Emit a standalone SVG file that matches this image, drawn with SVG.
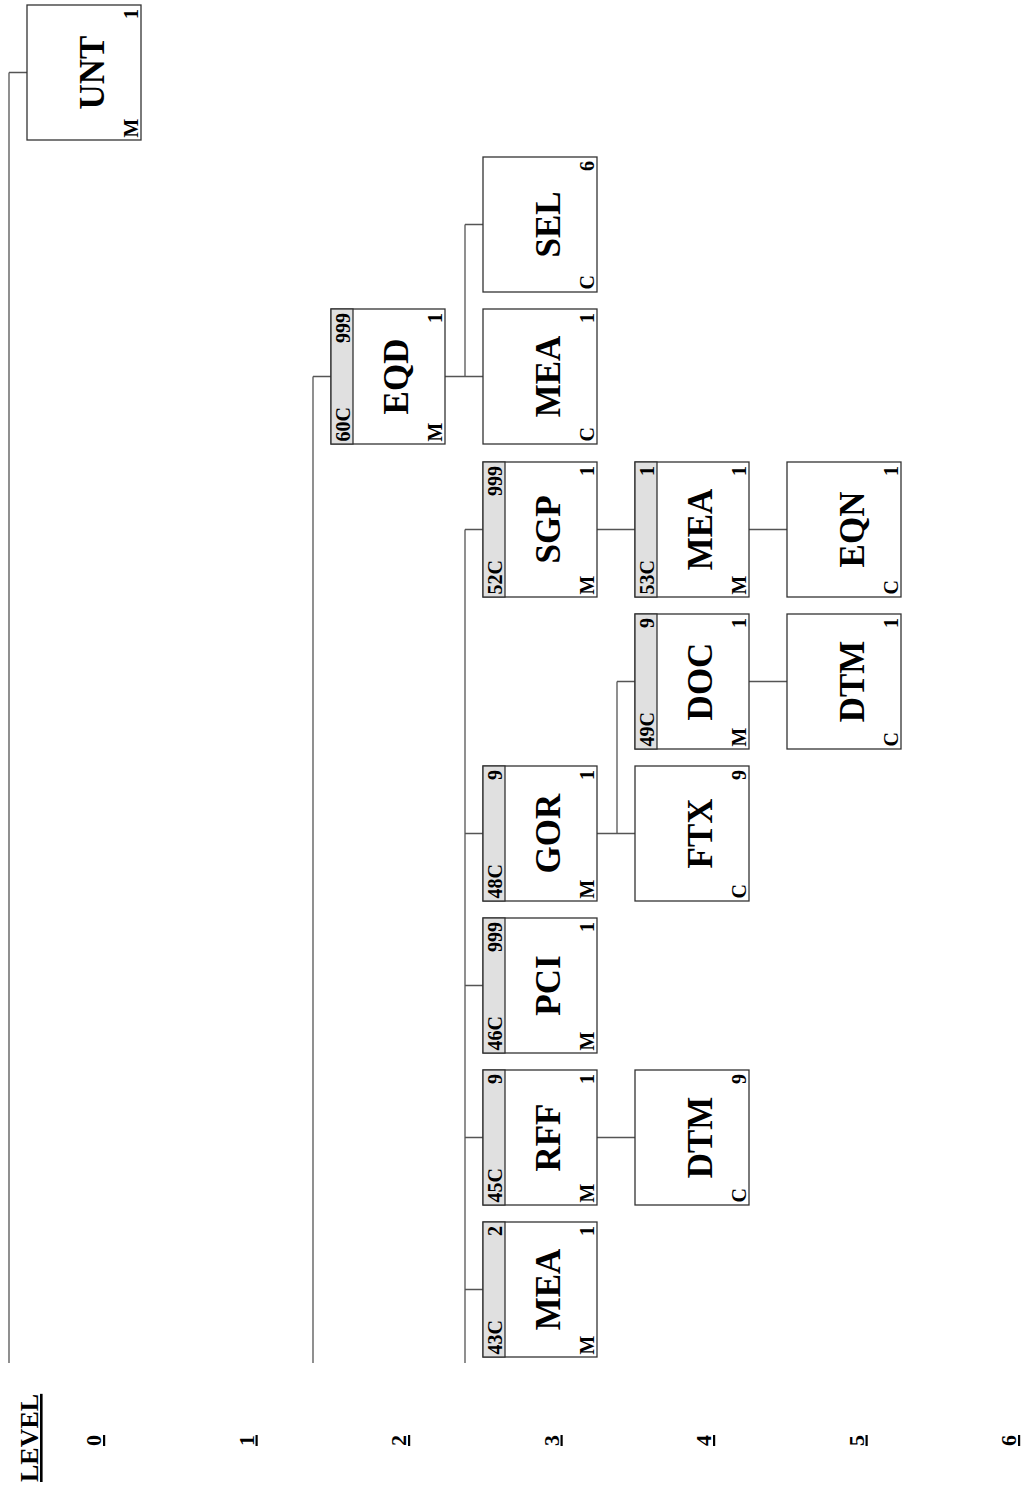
<svg xmlns="http://www.w3.org/2000/svg" width="1036" height="1488" viewBox="0 0 1036 1488">
<style>
.box{fill:#fff;stroke:#333;stroke-width:1.3}
.hdr{fill:#e0e0e0;stroke:#333;stroke-width:1.3}
.main{font-family:"Liberation Serif",serif;font-weight:bold;font-size:35px;text-anchor:middle;fill:#000}
.sm{font-family:"Liberation Serif",serif;font-weight:bold;font-size:20px;fill:#000}
.r{text-anchor:end}
.lvl{font-family:"Liberation Serif",serif;font-weight:bold;font-size:22px;fill:#000;text-decoration:underline}
.lvlh{font-family:"Liberation Serif",serif;font-weight:bold;font-size:26px;fill:#000;text-decoration:underline}
.conn path{fill:none;stroke:#555;stroke-width:1.3}
</style>
<rect width="1036" height="1488" fill="#fff"/>
<g id="connectors" class="conn">
<path d="M9,72.5 H27 M9,72.5 V1363"/>
<path d="M313,376.5 H331 M313,376.5 V1363"/>
<path d="M445,376.5 H483 M465,224.5 V376.5 M465,224.5 H483"/>
<path d="M465,529.5 V1363 M465,529.5 H483 M465,833.5 H483 M465,985.5 H483 M465,1137.5 H483 M465,1289.5 H483"/>
<path d="M597,529.5 H636 M749,529.5 H787"/>
<path d="M597,833.5 H636 M617,681.5 V833.5 M617,681.5 H636"/>
<path d="M749,681.5 H787"/>
<path d="M597,1137.5 H636"/>
</g>
<g transform="translate(0,1488) rotate(-90)">
<g id="levels">
<text class="lvlh" x="6" y="38">LEVEL</text>
<text class="lvl" x="42" y="101">0</text>
<text class="lvl" x="42" y="253.5">1</text>
<text class="lvl" x="42" y="406">2</text>
<text class="lvl" x="42" y="558.5">3</text>
<text class="lvl" x="42" y="711">4</text>
<text class="lvl" x="42" y="863.5">5</text>
<text class="lvl" x="42" y="1016">6</text>
</g>
<g id="n-unt" transform="translate(1348,27)">
<rect class="box" width="135" height="114"/>
<text class="main" x="67.5" y="77">UNT</text>
<text class="sm" x="2.5" y="111">M</text><text class="sm r" x="131" y="111">1</text>
</g>
<g id="n-eqd" transform="translate(1044,331)">
<rect class="box" width="135" height="114"/><rect class="hdr" width="135" height="22"/>
<text class="sm" x="2.5" y="19">60C</text><text class="sm r" x="131" y="19">999</text>
<text class="main" x="67.5" y="77">EQD</text>
<text class="sm" x="2.5" y="111">M</text><text class="sm r" x="131" y="111">1</text>
</g>
<g id="n-sel" transform="translate(1196,483)">
<rect class="box" width="135" height="114"/>
<text class="main" x="67.5" y="77">SEL</text>
<text class="sm" x="2.5" y="111">C</text><text class="sm r" x="131" y="111">6</text>
</g>
<g id="n-mea-eqd" transform="translate(1044,483)">
<rect class="box" width="135" height="114"/>
<text class="main" x="67.5" y="77">MEA</text>
<text class="sm" x="2.5" y="111">C</text><text class="sm r" x="131" y="111">1</text>
</g>
<g id="n-sgp" transform="translate(891,483)">
<rect class="box" width="135" height="114"/><rect class="hdr" width="135" height="22"/>
<text class="sm" x="2.5" y="19">52C</text><text class="sm r" x="131" y="19">999</text>
<text class="main" x="67.5" y="77">SGP</text>
<text class="sm" x="2.5" y="111">M</text><text class="sm r" x="131" y="111">1</text>
</g>
<g id="n-mea-53" transform="translate(891,635)">
<rect class="box" width="135" height="114"/><rect class="hdr" width="135" height="22"/>
<text class="sm" x="2.5" y="19">53C</text><text class="sm r" x="131" y="19">1</text>
<text class="main" x="67.5" y="77">MEA</text>
<text class="sm" x="2.5" y="111">M</text><text class="sm r" x="131" y="111">1</text>
</g>
<g id="n-eqn" transform="translate(891,787)">
<rect class="box" width="135" height="114"/>
<text class="main" x="67.5" y="77">EQN</text>
<text class="sm" x="2.5" y="111">C</text><text class="sm r" x="131" y="111">1</text>
</g>
<g id="n-doc" transform="translate(739,635)">
<rect class="box" width="135" height="114"/><rect class="hdr" width="135" height="22"/>
<text class="sm" x="2.5" y="19">49C</text><text class="sm r" x="131" y="19">9</text>
<text class="main" x="67.5" y="77">DOC</text>
<text class="sm" x="2.5" y="111">M</text><text class="sm r" x="131" y="111">1</text>
</g>
<g id="n-dtm-doc" transform="translate(739,787)">
<rect class="box" width="135" height="114"/>
<text class="main" x="67.5" y="77">DTM</text>
<text class="sm" x="2.5" y="111">C</text><text class="sm r" x="131" y="111">1</text>
</g>
<g id="n-gor" transform="translate(587,483)">
<rect class="box" width="135" height="114"/><rect class="hdr" width="135" height="22"/>
<text class="sm" x="2.5" y="19">48C</text><text class="sm r" x="131" y="19">9</text>
<text class="main" x="67.5" y="77">GOR</text>
<text class="sm" x="2.5" y="111">M</text><text class="sm r" x="131" y="111">1</text>
</g>
<g id="n-ftx" transform="translate(587,635)">
<rect class="box" width="135" height="114"/>
<text class="main" x="67.5" y="77">FTX</text>
<text class="sm" x="2.5" y="111">C</text><text class="sm r" x="131" y="111">9</text>
</g>
<g id="n-pci" transform="translate(435,483)">
<rect class="box" width="135" height="114"/><rect class="hdr" width="135" height="22"/>
<text class="sm" x="2.5" y="19">46C</text><text class="sm r" x="131" y="19">999</text>
<text class="main" x="67.5" y="77">PCI</text>
<text class="sm" x="2.5" y="111">M</text><text class="sm r" x="131" y="111">1</text>
</g>
<g id="n-rff" transform="translate(283,483)">
<rect class="box" width="135" height="114"/><rect class="hdr" width="135" height="22"/>
<text class="sm" x="2.5" y="19">45C</text><text class="sm r" x="131" y="19">9</text>
<text class="main" x="67.5" y="77">RFF</text>
<text class="sm" x="2.5" y="111">M</text><text class="sm r" x="131" y="111">1</text>
</g>
<g id="n-dtm-rff" transform="translate(283,635)">
<rect class="box" width="135" height="114"/>
<text class="main" x="67.5" y="77">DTM</text>
<text class="sm" x="2.5" y="111">C</text><text class="sm r" x="131" y="111">9</text>
</g>
<g id="n-mea-43" transform="translate(131,483)">
<rect class="box" width="135" height="114"/><rect class="hdr" width="135" height="22"/>
<text class="sm" x="2.5" y="19">43C</text><text class="sm r" x="131" y="19">2</text>
<text class="main" x="67.5" y="77">MEA</text>
<text class="sm" x="2.5" y="111">M</text><text class="sm r" x="131" y="111">1</text>
</g>
</g>
</svg>
